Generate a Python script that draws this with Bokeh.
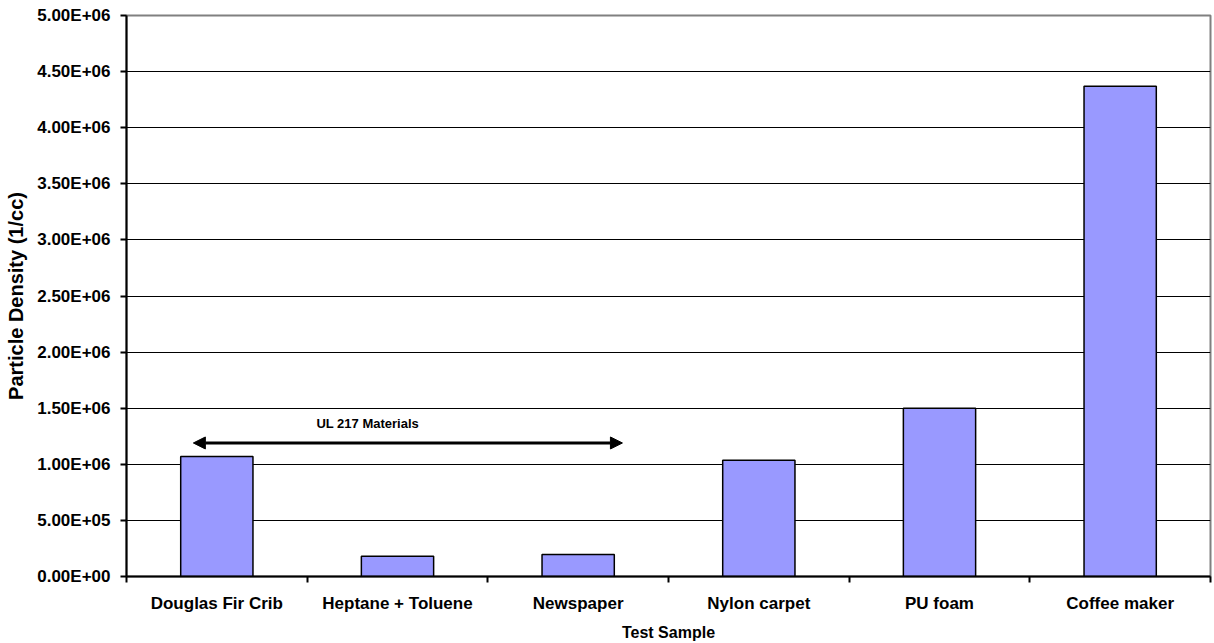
from bokeh.plotting import figure
from bokeh.models import (FixedTicker, Range1d, Arrow, NormalHead, Label,
                          ColumnDataSource)
from bokeh.embed import file_html
from bokeh.resources import INLINE

categories = ["Douglas Fir Crib", "Heptane + Toluene", "Newspaper",
              "Nylon carpet", "PU foam", "Coffee maker"]
density = [1.07e6, 1.8e5, 1.97e5, 1.035e6, 1.5e6, 4.37e6]
y_ticks = [0, 5e5, 1e6, 1.5e6, 2e6, 2.5e6, 3e6, 3.5e6, 4e6, 4.5e6, 5e6]
y_tick_labels = ["0.00E+00", "5.00E+05", "1.00E+06", "1.50E+06", "2.00E+06",
                 "2.50E+06", "3.00E+06", "3.50E+06", "4.00E+06", "4.50E+06",
                 "5.00E+06"]
arrow_start = 0.37
arrow_end = 2.745
arrow_y = 1.19e6
arrow_label = "UL 217 Materials"
arrow_label_pos = (1.335, 1.36e6)

FONT = "Liberation Sans"
xs = [i + 0.5 for i in range(len(categories))]

p = figure(width=1212, height=643, output_backend="svg", toolbar_location=None,
           x_range=Range1d(0, len(categories)), y_range=Range1d(0, 5e6),
           min_border_left=126, min_border_right=2, min_border_top=15,
           min_border_bottom=60)
p.background_fill_color = "white"
p.border_fill_color = "white"
p.outline_line_color = "#808080"
p.outline_line_width = 2

src = ColumnDataSource(dict(x=xs, top=density))
p.vbar(x="x", top="top", width=0.4, bottom=0, source=src,
       fill_color="#9999FF", line_color="black", line_width=1.5)

# x axis
p.xaxis.ticker = FixedTicker(ticks=xs, minor_ticks=list(range(len(categories) + 1)))
p.xaxis.major_label_overrides = {x: c for x, c in zip(xs, categories)}
p.xaxis.major_tick_line_color = None
p.xaxis.major_tick_out = 6
p.xaxis.major_tick_in = 0
p.xaxis.minor_tick_line_color = "black"
p.xaxis.minor_tick_line_width = 2
p.xaxis.minor_tick_out = 6
p.xaxis.minor_tick_in = 0
p.xaxis.axis_line_width = 2
p.xaxis.axis_line_color = "black"
p.xaxis.major_label_text_font = FONT
p.xaxis.major_label_text_font_style = "bold"
p.xaxis.major_label_text_font_size = "17px"
p.xaxis.major_label_text_color = "black"
p.xaxis.major_label_standoff = 11
p.xaxis.axis_label = "Test Sample"
p.xaxis.axis_label_text_font = FONT
p.xaxis.axis_label_text_font_style = "bold"
p.xaxis.axis_label_text_font_size = "16px"
p.xaxis.axis_label_text_color = "black"
p.xaxis.axis_label_standoff = 8

# y axis
p.yaxis.ticker = FixedTicker(ticks=y_ticks, minor_ticks=[])
p.yaxis.major_label_overrides = {t: l for t, l in zip(y_ticks, y_tick_labels)}
p.yaxis.major_tick_line_color = "black"
p.yaxis.major_tick_line_width = 2
p.yaxis.major_tick_out = 6
p.yaxis.major_tick_in = 0
p.yaxis.axis_line_width = 2
p.yaxis.axis_line_color = "black"
p.yaxis.major_label_text_font = FONT
p.yaxis.major_label_text_font_style = "bold"
p.yaxis.major_label_text_font_size = "17px"
p.yaxis.major_label_text_color = "black"
p.yaxis.major_label_standoff = 10
p.yaxis.axis_label = "Particle Density (1/cc)"
p.yaxis.axis_label_text_font = FONT
p.yaxis.axis_label_text_font_style = "bold"
p.yaxis.axis_label_text_font_size = "20px"
p.yaxis.axis_label_text_color = "black"
p.yaxis.axis_label_standoff = 7

p.xgrid.grid_line_color = None
p.ygrid.ticker = FixedTicker(ticks=y_ticks[1:-1])
p.ygrid.grid_line_color = "black"
p.ygrid.grid_line_width = 1

arrow = Arrow(x_start=arrow_start, y_start=arrow_y, x_end=arrow_end, y_end=arrow_y,
              line_color="black", line_width=3,
              start=NormalHead(size=12, fill_color="black", line_color="black"),
              end=NormalHead(size=12, fill_color="black", line_color="black"))
p.add_layout(arrow)

p.add_layout(Label(x=arrow_label_pos[0], y=arrow_label_pos[1], text=arrow_label,
                   text_align="center", text_baseline="middle", text_color="black",
                   text_font=FONT, text_font_style="bold", text_font_size="13px"))

open("out.html", "w").write(file_html(p, INLINE))
